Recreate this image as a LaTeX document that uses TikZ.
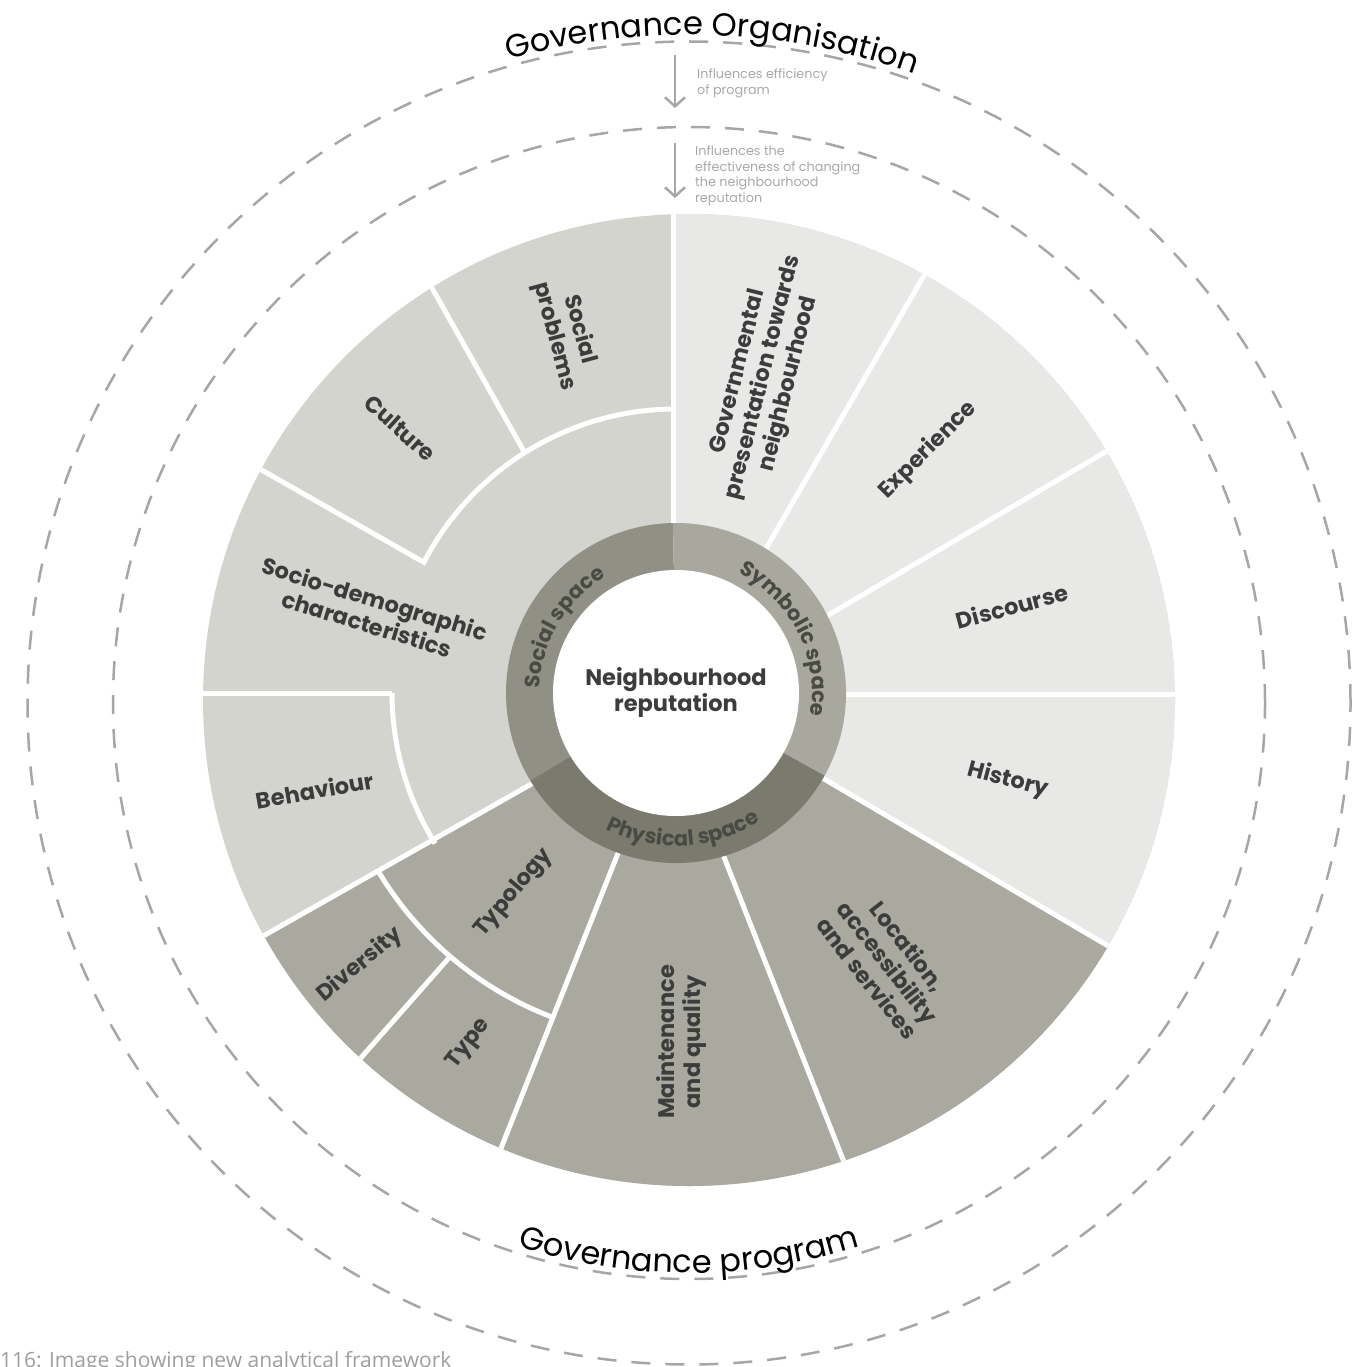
\documentclass[tikz,border=0pt]{standalone}
\usepackage{fontspec}
\setmainfont{Poppins}
\newfontfamily\capfont{Open Sans}
\usetikzlibrary{decorations.text,arrows.meta,calc}
\definecolor{socw}{HTML}{D4D4CE}
\definecolor{symw}{HTML}{E8E8E6}
\definecolor{phyw}{HTML}{A9A99F}
\definecolor{socr}{HTML}{909184}
\definecolor{phyr}{HTML}{7A7B6D}
\definecolor{symr}{HTML}{A8A89E}
\definecolor{txtdark}{HTML}{3C3C3C}
\definecolor{ringtxt}{HTML}{4A4A45}
\definecolor{dashgray}{HTML}{A6A6A6}
\definecolor{notegray}{HTML}{A8A8A8}
\definecolor{capgray}{HTML}{9E9E9E}
\begin{document}
\begin{tikzpicture}[x=1pt,y=1pt,
  lab/.style={font=\fontsize{22.5}{26}\selectfont\bfseries, text=txtdark, align=center, inner sep=0},
  divider/.style={draw=white, line width=5pt},
  dashcircle/.style={draw=dashgray, line width=2.5pt, dash pattern=on 19pt off 15pt},
  note/.style={font=\fontsize{12.8}{15.5}\selectfont, text=notegray, align=left, inner sep=0, anchor=north west},
  influence/.style={draw=dashgray, line width=2.5pt, -{Straight Barb[length=9pt,width=20pt]}}
]
\useasboundingbox (0,0) rectangle (1364,-1367);
\coordinate (C) at (676,-693);
\coordinate (P) at (689,-700);
\coordinate (D) at (689,-703);

% dashed governance circles
\draw[dashcircle] (D) circle (576);
\draw[dashcircle] (D) circle (661.5);

% pie of factors
\begin{scope}
  \clip (P) circle (486);
  \fill[socw] (P) circle (486);
  \fill[symw] (673,-690) -- (673,0) -- (1364,0) -- (1364,-1097) -- cycle;
  \fill[phyw] (685.5,-697) -- (1364,-1097) -- (1364,-1367) -- (0,-1367) -- (0,-1085) -- cycle;
  % dividers
  \draw[divider] (673,-600) -- (673,-150);
  \draw[divider] (720,-628) -- (970,-196);
  \draw[divider] (718,-680) -- (1158,-421);
  \draw[divider] (700,-694) -- (1200,-694);
  \draw[divider] (700,-706) -- (1200,-1000);
  \draw[divider] (678,-740) -- (855,-1190);
  \draw[divider] (651,-770) -- (490,-1176);
  \draw[divider] (662,-710) -- (212,-965);
  \draw[divider] (150,-693) -- (392,-693);
  \draw[divider] (C) ++(180:284) arc[start angle=180, end angle=212, radius=284];
  \draw[divider, line join=miter] (230,-452) -- ($(C)+(152.6:284)$) arc[start angle=152.6, end angle=90, radius=284];
  \draw[divider] ($(C)+(122.2:283)$) -- (414,-256);
  \draw[divider] (C) ++(211:347) arc[start angle=211, end angle=249, radius=347];
  \draw[divider] ($(C)+(229.4:347)$) -- (344,-1077);
\end{scope}

% ring of spaces
\fill[socr] (C) -- ++(91:170) arc[start angle=91, end angle=211, radius=170] -- cycle;
\fill[phyr] (C) -- ++(211:170) arc[start angle=211, end angle=331, radius=170] -- cycle;
\fill[symr] (C) -- ++(331:170) arc[start angle=331, end angle=451, radius=170] -- cycle;
\fill[white] (C) circle (123);

\path[decorate, decoration={text along path, text align=center, text color=ringtxt,
  text={|\fontsize{21}{21}\selectfont\bfseries|Social space}}]
  (C) ++(195:136) arc[start angle=195, end angle=104, radius=136];
\path[decorate, decoration={text along path, text align=center, text color=ringtxt,
  text={|\fontsize{21}{21}\selectfont\bfseries|Symbolic space}}]
  (C) ++(71:136) arc[start angle=71, end angle=-18, radius=136];
\path[decorate, decoration={text along path, text align=center, text color=ringtxt,
  text={|\fontsize{21}{21}\selectfont\bfseries|Physical space}}]
  (C) ++(223:153) arc[start angle=223, end angle=323, radius=153];

% centre
\node[lab] (centre) at (676,-692) {Neighbourhood\\reputation};

% factor labels
\node[lab, rotate=-75] (socprob) at (567,-333) {Social\\problems};
\node[lab, rotate=-42] (culture) at (400,-428) {Culture};
\node[lab, rotate=-17] (sociodem) at (371,-611) {Socio-demographic\\characteristics};
\node[lab, rotate=10] (behaviour) at (315,-790) {Behaviour};
\node[lab, rotate=50] (typology) at (514,-893) {Typology};
\node[lab, rotate=40] (diversity) at (360,-965) {Diversity};
\node[lab, rotate=52] (type) at (469,-1044) {Type};
\node[lab, rotate=90] (maint) at (681,-1042) {Maintenance\\and quality};
\node[lab, rotate=-52] (location) at (888,-962) {Location,\\accessibility\\and services};
\node[lab, rotate=-15] (history) at (1008,-780) {History};
\node[lab, rotate=15] (discourse) at (1012,-606) {Discourse};
\node[lab, rotate=45] (experience) at (928,-450) {Experience};
\node[lab, rotate=76] (govpres) at (764,-378) {Governmental\\presentation towards\\neighbourhood};

% governance titles along the dashed circles
\path[decorate, decoration={text along path, text align=center, text color=black,
  text={|\fontsize{32}{32}\selectfont|Governance Organisation}}]
  (D) ++(133:668) arc[start angle=133, end angle=43, radius=668];
\path[decorate, decoration={text along path, text align=center, text color=black,
  text={|\fontsize{32}{32}\selectfont|Governance program}}]
  (D) ++(230:570) arc[start angle=230, end angle=310, radius=570];

% influence arrows
\coordinate (a1s) at (675,-55);
\coordinate (a1e) at (675,-108);
\coordinate (a2s) at (675,-143);
\coordinate (a2e) at (675,-198);
\draw[influence] (a1s) -- (a1e);
\draw[influence] (a2s) -- (a2e);
\node[note] (note1) at (697,-69) {Influences efficiency\\of program};
\node[note] (note2) at (695,-146) {Influences the\\effectiveness of changing\\the neighbourhood\\reputation};

% caption
\node[anchor=base west, inner sep=0, font=\capfont\fontsize{21}{21}\selectfont, text=capgray] (caption) at (0,-1367) {116: Image showing new analytical framework};
\end{tikzpicture}
\end{document}
